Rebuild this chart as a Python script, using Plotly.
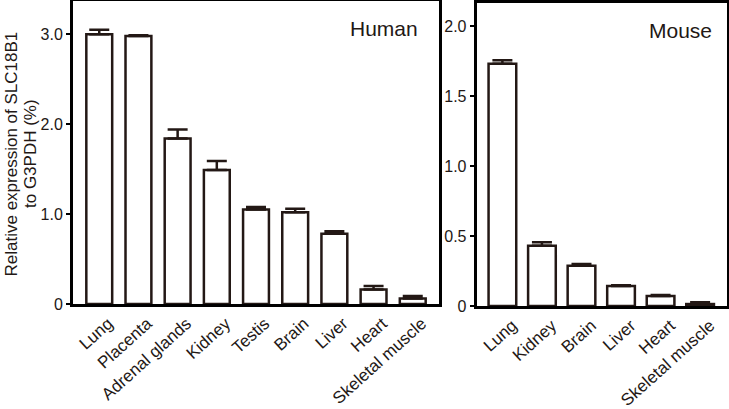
import plotly.graph_objects as go

human_tissues = ["Lung", "Placenta", "Adrenal glands", "Kidney", "Testis", "Brain", "Liver", "Heart", "Skeletal muscle"]
human_values = [3.00, 2.98, 1.84, 1.49, 1.05, 1.02, 0.78, 0.16, 0.06]
human_err = [0.05, 0.01, 0.10, 0.10, 0.03, 0.04, 0.03, 0.04, 0.03]

mouse_tissues = ["Lung", "Kidney", "Brain", "Liver", "Heart", "Skeletal muscle"]
mouse_values = [1.73, 0.43, 0.288, 0.143, 0.071, 0.014]
mouse_err = [0.025, 0.025, 0.012, 0.006, 0.007, 0.012]

INK = "#231815"
FONT = "Liberation Sans, Arial, Helvetica, sans-serif"

W, H = 729, 409
ML, MR, MT, MB = 73, 2, 1, 103
PW, PH = W - ML - MR, H - MT - MB


def px_x(px):
    return (px - ML) / PW


def px_y(py):
    return (H - MB - py) / PH


fig = go.Figure()
fig.add_trace(go.Bar(
    x=human_tissues, y=human_values,
    marker=dict(color="white", line=dict(color=INK, width=2.5)),
    width=0.66,
    error_y=dict(type="data", array=human_err, arrayminus=[0] * len(human_err),
                 symmetric=False, color=INK, thickness=2.5, width=10),
    xaxis="x", yaxis="y", showlegend=False,
))
fig.add_trace(go.Bar(
    x=mouse_tissues, y=mouse_values,
    marker=dict(color="white", line=dict(color=INK, width=2.5)),
    width=0.7,
    error_y=dict(type="data", array=mouse_err, arrayminus=[0] * len(mouse_err),
                 symmetric=False, color=INK, thickness=2.5, width=10),
    xaxis="x2", yaxis="y2", showlegend=False,
))

axis_common = dict(showline=True, linecolor="black", linewidth=3, mirror=True,
                   showgrid=False, zeroline=False, automargin=False)
xfont = dict(size=17, family=FONT, color=INK)
yfont = dict(size=16, family=FONT, color=INK)

fig.update_layout(
    template="none",
    width=W, height=H,
    margin=dict(l=ML, r=MR, t=MT, b=MB, autoexpand=False),
    paper_bgcolor="white", plot_bgcolor="white",
    font=dict(family=FONT, size=16, color=INK),
    xaxis=dict(domain=[0, px_x(439)], range=[-0.67, 8.67], tickangle=-42,
               ticks="", anchor="y", tickfont=xfont, ticklabelshift=9, **axis_common),
    yaxis=dict(domain=[px_y(304), px_y(1)], range=[0, 3.37], tickvals=[0, 1, 2, 3],
               ticktext=["0", "1.0", "2.0", "3.0"], ticks="outside", ticklen=4,
               tickwidth=2, tickcolor="black", anchor="x", tickfont=yfont, **axis_common),
    xaxis2=dict(domain=[px_x(476.7), px_x(727)], range=[-0.65, 5.68], tickangle=-42,
                ticks="", anchor="y2", tickfont=xfont, ticklabelshift=10, **axis_common),
    yaxis2=dict(domain=[px_y(306), px_y(3)], range=[0, 2.164], tickvals=[0, 0.5, 1, 1.5, 2],
                ticktext=["0", "0.5", "1.0", "1.5", "2.0"], ticks="outside", ticklen=4,
                tickwidth=2, tickcolor="black", anchor="x2", tickfont=yfont, **axis_common),
    annotations=[
        dict(text="Relative expression of SLC18B1", textangle=-90,
             xref="paper", yref="paper", x=px_x(10.5), y=px_y(154), xanchor="center",
             yanchor="middle", showarrow=False, font=dict(size=17)),
        dict(text="to G3PDH (%)", textangle=-90,
             xref="paper", yref="paper", x=px_x(30), y=px_y(154), xanchor="center",
             yanchor="middle", showarrow=False, font=dict(size=17)),
        dict(text="Human", xref="paper", yref="paper", x=px_x(383.5),
             y=px_y(28.7), xanchor="center", yanchor="middle",
             showarrow=False, font=dict(size=21)),
        dict(text="Mouse", xref="paper", yref="paper", x=px_x(680.5),
             y=px_y(30), xanchor="center", yanchor="middle",
             showarrow=False, font=dict(size=21)),
    ],
)

fig.write_html("out.html", config={"displayModeBar": False},
               post_script="document.body.style.margin='0';document.body.style.overflow='hidden';")
